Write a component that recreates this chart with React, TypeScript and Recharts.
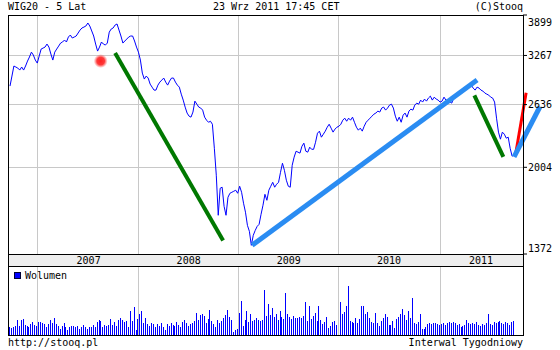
import React from 'react';
import { LineChart, Line, XAxis, YAxis, CartesianGrid, ReferenceLine, ReferenceDot, BarChart, Bar } from 'recharts';

// Weekly WIG20 closes (5 years, index = week number)
const price: number[] = [
  2858, 2986, 3120, 3106, 3092, 3065, 3106, 3065, 3120, 3188,
  3245, 3315, 3273, 3202, 3160, 3259, 3360, 3374, 3389, 3434,
  3389, 3288, 3202, 3315, 3360, 3404, 3449, 3465, 3495, 3465,
  3541, 3572, 3526, 3541, 3557, 3604, 3651, 3684, 3699, 3716,
  3765, 3716, 3636, 3557, 3434, 3330, 3389, 3465, 3434, 3419,
  3449, 3618, 3667, 3684, 3732, 3749, 3651, 3557, 3449, 3480,
  3510, 3541, 3557, 3557, 3480, 3389, 3315, 3202, 3025, 2947,
  2986, 2960, 2883, 2845, 2808, 2808, 2870, 2908, 2934, 2960,
  2908, 2870, 2921, 2960, 2960, 2908, 2870, 2845, 2759, 2688,
  2607, 2540, 2506, 2495, 2551, 2676, 2641, 2607, 2596, 2573,
  2495, 2462, 2440, 2451, 2419, 2178, 1936, 1625, 1829, 1837,
  1690, 1625, 1758, 1789, 1797, 1805, 1813, 1789, 1845, 1797,
  1713, 1647, 1555, 1515, 1425, 1489, 1521, 1548, 1562, 1632,
  1698, 1781, 1735, 1813, 1845, 1877, 1837, 1861, 1877, 1961,
  2040, 1978, 1894, 1845, 1837, 2022, 2095, 2150, 2141, 2132,
  2197, 2227, 2150, 2141, 2188, 2168, 2168, 2236, 2326, 2347,
  2286, 2316, 2347, 2388, 2419, 2378, 2337, 2368, 2388, 2398,
  2419, 2462, 2484, 2451, 2484, 2462, 2495, 2440, 2388, 2357,
  2378, 2347, 2398, 2440, 2462, 2484, 2506, 2528, 2540, 2562,
  2551, 2596, 2607, 2573, 2596, 2630, 2641, 2596, 2506, 2451,
  2495, 2440, 2517, 2540, 2495, 2562, 2584, 2573, 2630, 2653,
  2641, 2688, 2665, 2700, 2676, 2712, 2735, 2688, 2723, 2700,
  2688, 2665, 2676, 2723, 2688, 2688, 2665, 2653, 2712, 2735,
  2747, 2772, 2784, 2808, 2820, 2845, 2858, 2870, 2833, 2808,
  2845, 2833, 2808, 2796, 2772, 2759, 2747, 2723, 2712, 2665,
  2484, 2337, 2266, 2337, 2316, 2276, 2286, 2178, 2104, 2113,
];

// Weekly volume (relative units)
const volume: number[] = [
  8, 7, 8, 9, 15, 9, 15, 16, 10, 9, 8, 11, 13, 10,
  9, 13, 13, 12, 11, 8, 11, 15, 12, 17, 11, 9, 6, 9, 12, 8, 5, 8, 9, 9,
  8, 9, 6, 8, 10, 8, 6, 8, 8, 10, 8, 13, 15, 14, 8, 10, 9, 10, 16, 10,
  13, 9, 15, 17, 15, 13, 14, 8, 24, 14, 28, 5,
  16, 21, 24, 12, 17, 11, 9, 12, 11, 8, 11, 9, 12, 8, 5, 11, 9, 12, 10, 9,
  13, 10, 8, 13, 15, 12, 9, 11, 12, 14, 22, 15, 20, 21, 19, 12, 16, 25, 14, 11,
  8, 15, 12, 14, 17, 20, 25, 18, 15, 3, 5, 6,
  22, 34, 9, 15, 24, 13, 21, 14, 15, 17, 15, 14, 15, 45, 19, 31, 20, 27, 18, 21,
  15, 24, 18, 16, 42, 21, 18, 16, 19, 17, 17, 18, 17, 19, 33, 14, 29, 16, 19, 22,
  14, 29, 15, 11, 13, 18, 7, 9, 13, 14, 10, 13,
  33, 21, 23, 29, 49, 14, 13, 12, 17, 12, 16, 29, 29, 21, 23, 17, 13, 12, 22, 12,
  9, 14, 17, 21, 18, 10, 10, 14, 7, 16, 18, 21, 26, 20, 15, 24, 17, 37, 12, 11,
  13, 21, 6, 6, 8, 11, 12, 11, 12, 12, 11, 10,
  11, 12, 10, 12, 13, 12, 13, 12, 10, 11, 8, 9, 10, 15, 12, 11, 12, 11, 13, 10,
  9, 11, 10, 12, 21, 11, 10, 13, 12, 13, 14, 12, 11, 13, 12, 10, 13, 14,
];

const yearStarts: number[] = [14.1, 65.8, 117.2, 168.6, 221];
const yearMids: number[] = [40.4, 91.8, 143.2, 194.8, 242];
const yearLabels: string[] = ['2007', '2008', '2009', '2010', '2011'];
const priceTicks: number[] = [1372, 2004, 2636, 3267, 3899];
const xDomain: [number, number] = [-1.03, 263.6];

// Hand-drawn annotations (index, value)
const green1 = [{ x: 54, y: 3303 }, { x: 109.5, y: 1456 }];
const blue1 = [{ x: 124.4, y: 1425 }, { x: 240, y: 2934 }];
const green2 = [{ x: 238.6, y: 2745 }, { x: 253.5, y: 2097 }];
const blue2 = [{ x: 259, y: 2097 }, { x: 272.3, y: 2611 }];
const red1 = [{ x: 260, y: 2143 }, { x: 265.2, y: 2775 }];
const redDot = { x: 46.6, y: 3188 };

const priceData = price.map((p, i) => ({ i, p }));
const volumeData = volume.map((v, i) => ({ i, v }));

const FONT = '"DejaVu Sans Mono", monospace';

const PriceTick = (props: any) => {
  const { x, y, payload } = props;
  const v = payload.value;
  const shift = v === priceTicks[priceTicks.length - 1] ? 7 : v === priceTicks[0] ? -6 : 0;
  return (
    <text x={x} y={y + shift} dy="0.35em" textAnchor="start" fontFamily={FONT} fontSize={10} fill="#000">
      {v}
    </text>
  );
};

const YearTick = (props: any) => {
  const { x, y, payload } = props;
  const idx = yearMids.indexOf(payload.value);
  return (
    <text x={x} y={y} dy={10} textAnchor="middle" fontFamily={FONT} fontSize={10} fill="#000">
      {yearLabels[idx]}
    </text>
  );
};

const VolBar = (props: any) => {
  const { x, y, width, height } = props;
  if (!height || height <= 0) return null;
  const cx = Math.round(x + width / 2 - 0.5);
  const top = Math.round(y);
  const bottom = Math.round(y + height);
  return <rect x={cx} y={top} width={1} height={bottom - top} fill="#0000ff" shapeRendering="crispEdges" />;
};

const abs = (s: React.CSSProperties): React.CSSProperties => ({ position: 'absolute', ...s });

export default function App() {
  return (
    <div style={abs({ left: 0, top: 0, width: 560, height: 350, background: '#fff', overflow: 'hidden', fontFamily: FONT, fontSize: 10, color: '#000' })}>
      <div style={abs({ left: 8, top: 254, width: 516, height: 12, background: '#eeeeee' })} />
      <div style={abs({ left: 0, top: 0 })}>
        <LineChart width={560} height={266} data={priceData} margin={{ top: 15, right: 0, bottom: 0, left: 8 }}>
          <defs>
            <radialGradient id="redGlow">
              <stop offset="0%" stopColor="#ff2020" stopOpacity={1} />
              <stop offset="55%" stopColor="#ff3030" stopOpacity={0.95} />
              <stop offset="100%" stopColor="#ff6060" stopOpacity={0} />
            </radialGradient>
          </defs>
          <CartesianGrid vertical={false} stroke="#c8c8c8" shapeRendering="crispEdges" />
          <XAxis
            dataKey="i"
            type="number"
            domain={xDomain}
            allowDataOverflow
            ticks={yearMids}
            interval={0}
            height={12}
            tickLine={false}
            axisLine={false}
            tickSize={0}
            tickMargin={0}
            tick={<YearTick />}
          />
          <YAxis
            orientation="right"
            type="number"
            scale="log"
            domain={[priceTicks[0], priceTicks[priceTicks.length - 1]]}
            allowDataOverflow
            ticks={priceTicks}
            interval={0}
            width={37}
            axisLine={false}
            tickSize={4}
            tickMargin={1}
            tickLine={{ stroke: '#000' }}
            tick={<PriceTick />}
          />
          {yearStarts.map((x) => (
            <ReferenceLine key={x} x={x} stroke="#c8c8c8" ifOverflow="visible" shapeRendering="crispEdges" />
          ))}
          <Line type="linear" dataKey="p" stroke="#0000ff" strokeWidth={1} dot={false} isAnimationActive={false} />
          <ReferenceDot x={redDot.x} y={redDot.y} r={7} fill="url(#redGlow)" stroke="none" ifOverflow="visible" />
          <ReferenceLine segment={green1} stroke="#007800" strokeWidth={4} ifOverflow="visible" />
          <ReferenceLine segment={blue1} stroke="#2a8cf2" strokeWidth={5} ifOverflow="visible" />
          <ReferenceLine segment={green2} stroke="#007800" strokeWidth={4} ifOverflow="visible" />
          <ReferenceLine segment={red1} stroke="#ff0000" strokeWidth={3} ifOverflow="visible" />
          <ReferenceLine segment={blue2} stroke="#2a8cf2" strokeWidth={5} ifOverflow="visible" />
        </LineChart>
      </div>
      <div style={abs({ left: 0, top: 266 })}>
        <BarChart width={560} height={69} data={volumeData} margin={{ top: 0, right: 37, bottom: 0, left: 8 }}>
          <XAxis dataKey="i" type="number" domain={xDomain} allowDataOverflow hide />
          <YAxis type="number" domain={[0, 69]} allowDataOverflow hide />
          {yearStarts.map((x) => (
            <ReferenceLine key={x} x={x} stroke="#c8c8c8" shapeRendering="crispEdges" />
          ))}
          <Bar dataKey="v" fill="#0000ff" barSize={1} shape={<VolBar />} isAnimationActive={false} />
        </BarChart>
      </div>
      {/* frames */}
      <div style={abs({ left: 8, top: 15, width: 516, height: 252, border: '1px solid #000', boxSizing: 'border-box', pointerEvents: 'none' })} />
      <div style={abs({ left: 8, top: 254, width: 516, height: 1, background: '#000' })} />
      <div style={abs({ left: 8, top: 266, width: 516, height: 70, border: '1px solid #000', boxSizing: 'border-box', pointerEvents: 'none' })} />
      {/* legend */}
      <div style={abs({ left: 14, top: 272, width: 7, height: 7, background: '#0000ff', border: '1px solid #000033', boxSizing: 'border-box' })} />
      <div style={abs({ left: 25, top: 270, lineHeight: '12px', whiteSpace: 'nowrap' })}>Wolumen</div>
      {/* header */}
      <div style={abs({ left: 8, top: 1, lineHeight: '12px', whiteSpace: 'nowrap' })}>WIG20 - 5 Lat</div>
      <div style={abs({ left: 213, top: 1, lineHeight: '12px', whiteSpace: 'nowrap' })}>23 Wrz 2011 17:45 CET</div>
      <div style={abs({ right: 37, top: 1, lineHeight: '12px', whiteSpace: 'nowrap' })}>(C)Stooq</div>
      {/* footer */}
      <div style={abs({ left: 8, top: 337, lineHeight: '12px', whiteSpace: 'nowrap' })}>http://stooq.pl</div>
      <div style={abs({ right: 37, top: 337, lineHeight: '12px', whiteSpace: 'nowrap' })}>Interwal Tygodniowy</div>
    </div>
  );
}
